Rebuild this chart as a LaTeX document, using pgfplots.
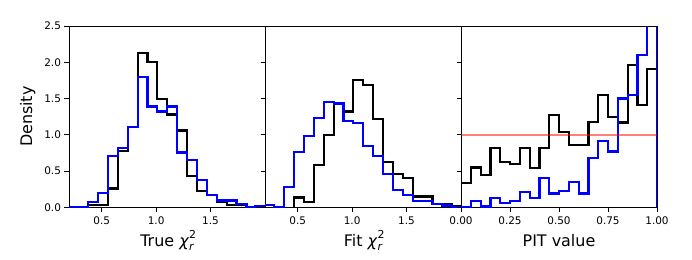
\documentclass[border=0pt]{standalone}
\usepackage{fontspec}
\setmainfont{DejaVu Sans}
\usepackage{pgfplots}
\pgfplotsset{compat=1.18}
\newcommand{\chir}{\textit{χ}\makebox[0pt][l]{\raisebox{0.5em}{\fontsize{11}{11}\selectfont 2}}\raisebox{-0.3em}{\fontsize{11}{11}\selectfont\itshape r}}
\definecolor{hblue}{RGB}{0,0,255}
\pgfplotsset{
  hist/.style={
    scale only axis, width=196bp, height=181.3bp,
    ymin=0, ymax=2.5, ytick={0,0.5,1,1.5,2,2.5},
    axis line style={line width=0.8bp, black},
    every tick/.style={line width=0.8bp, black},
    major tick length=4.5bp,
    tick align=outside, xtick pos=left, ytick pos=left,
    /pgf/number format/assume math mode=true,
    ticklabel style={font=\fontsize{10.5}{12}\selectfont},
    yticklabel style={/pgf/number format/.cd, fixed, fixed zerofill, precision=1},
    label style={font=\fontsize{16}{19}\selectfont},
    xlabel style={at={(axis description cs:0.5,0)}, anchor=base, yshift=-38.7bp},
    clip=true,
  },
  hl/.style={const plot, line width=2.2bp, line join=miter},
}
\begin{document}
\begin{tikzpicture}
\path[use as bounding box] (-69bp,-52.7bp) rectangle (623bp,207.3bp);
% Panel 1
\begin{axis}[hist, at={(0bp,0bp)}, anchor=south west,
  xmin=0.2, xmax=2.0, xtick={0.5,1.0,1.5},
  xticklabel style={yshift=-1.5bp, /pgf/number format/.cd, fixed, fixed zerofill, precision=1},
  xlabel={True \chir}, ylabel={Density},
  ylabel style={at={(axis description cs:0,0.5)}, anchor=center, yshift=41.2bp}]
\addplot[hl, black] coordinates {(0.375,0) (0.375,0.03) (0.466,0.03) (0.557,0.26) (0.648,0.78) (0.739,1.11) (0.830,2.13) (0.920,2.00) (1.011,1.49) (1.102,1.28) (1.193,1.06) (1.284,0.43) (1.375,0.22) (1.466,0.165) (1.557,0.075) (1.648,0.03) (1.739,0.03) (1.830,0.03) (1.830,0)};
\addplot[hl, hblue] coordinates {(0.1,0) (0.375,0.07) (0.466,0.20) (0.557,0.71) (0.648,0.815) (0.739,1.11) (0.830,1.80) (0.920,1.39) (1.011,1.32) (1.102,1.39) (1.193,0.755) (1.284,0.65) (1.375,0.38) (1.466,0.165) (1.557,0.095) (1.648,0.095) (1.739,0.04) (1.830,0) (1.905,0.02) (2.1,0.02)};
\end{axis}
% Panel 2
\begin{axis}[hist, at={(196bp,0bp)}, anchor=south west,
  xmin=0.2, xmax=2.0, xtick={0.5,1.0,1.5}, yticklabels={},
  xticklabel style={yshift=-1.5bp, /pgf/number format/.cd, fixed, fixed zerofill, precision=1},
  xlabel={Fit \chir}]
\addplot[hl, black] coordinates {(0.466,0) (0.466,0.135) (0.557,0.07) (0.648,0.585) (0.739,1.0) (0.830,1.44) (0.920,1.32) (1.011,1.75) (1.102,1.69) (1.193,1.22) (1.284,0.63) (1.375,0.46) (1.466,0.40) (1.557,0.15) (1.648,0.15) (1.739,0.045) (1.830,0.045) (1.920,0.02) (2.1,0.02)};
\addplot[hl, hblue] coordinates {(0.1,0.03) (0.284,0) (0.375,0.28) (0.466,0.765) (0.557,0.985) (0.648,1.23) (0.739,1.45) (0.830,1.43) (0.920,1.19) (1.011,1.16) (1.102,0.85) (1.193,0.71) (1.284,0.46) (1.375,0.24) (1.466,0.165) (1.557,0.087) (1.648,0.087) (1.739,0.04) (1.830,0.025) (1.920,0) (2.1,0)};
\end{axis}
% Panel 3
\begin{axis}[hist, at={(392bp,0bp)}, anchor=south west,
  xmin=0, xmax=1, xtick={0,0.25,0.5,0.75,1}, yticklabels={},
  xticklabel style={yshift=-1.5bp, /pgf/number format/.cd, fixed, fixed zerofill, precision=2},
  xlabel={PIT value}]
\addplot[hl, black] coordinates {(0,0) (0,0.33) (0.05,0.55) (0.1,0.445) (0.15,0.82) (0.2,0.63) (0.25,0.595) (0.3,0.82) (0.35,0.54) (0.4,0.82) (0.45,1.27) (0.5,1.04) (0.55,0.86) (0.6,0.86) (0.65,1.18) (0.7,1.545) (0.75,1.24) (0.8,1.17) (0.85,1.96) (0.9,1.41) (0.95,1.91) (1.0,1.91) (1.0,0)};
\addplot[hl, hblue] coordinates {(-0.1,0) (0.05,0.09) (0.1,0.01) (0.15,0.13) (0.2,0.055) (0.25,0.09) (0.3,0.215) (0.35,0.13) (0.4,0.40) (0.45,0.19) (0.5,0.23) (0.55,0.35) (0.6,0.19) (0.65,0.68) (0.7,0.916) (0.75,0.77) (0.8,1.50) (0.85,1.545) (0.9,2.10) (0.95,3.5) (1.0,3.5) (1.0,0)};
\addplot[red, opacity=0.5, line width=2bp] coordinates {(0,1) (1,1)};
\end{axis}
\end{tikzpicture}
\end{document}
